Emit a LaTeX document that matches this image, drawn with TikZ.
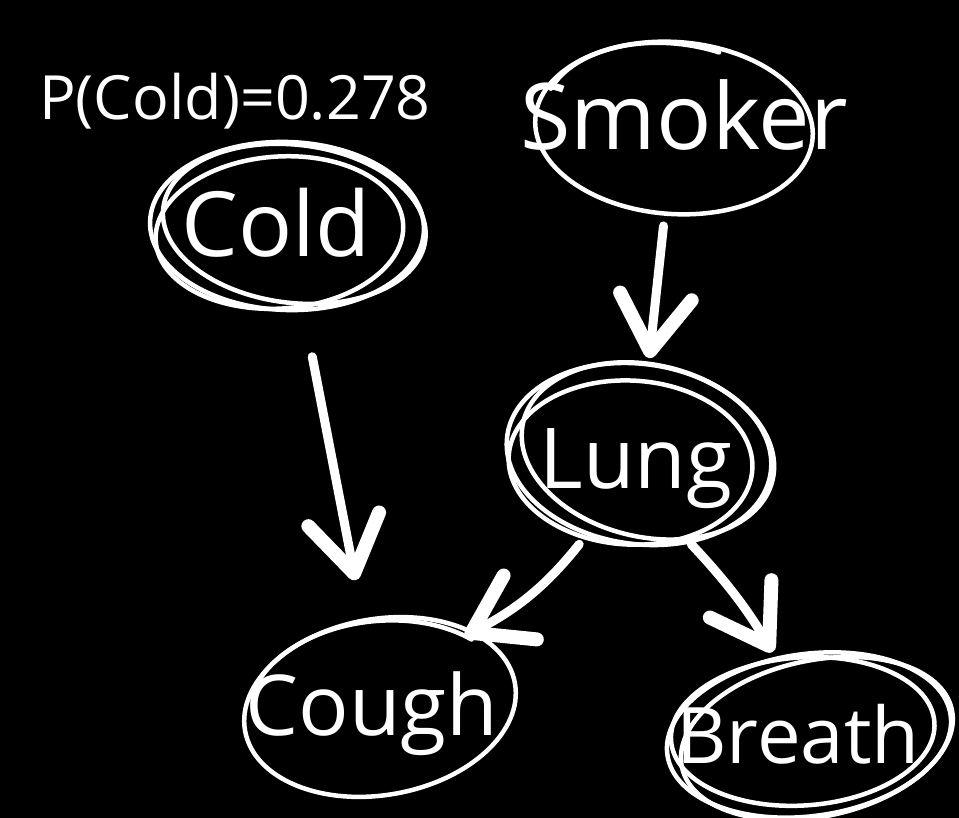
\documentclass[tikz,border=0pt]{standalone}
\usepackage{fontspec}
\setmainfont{Open Sans}
\usetikzlibrary{arrows.meta,shapes.geometric}

% one hand-drawn loop around a node: node, dx, dy, rotation, x radius, y radius
\newcommand\hloop[6]{%
  \draw[chalk, shift={(#1.center)}, rotate=#4] (#2,#3) ellipse [x radius=#5, y radius=#6];}

\begin{document}
\begin{tikzpicture}[x=1pt,y=-1pt,
  chalk/.style={draw=white, line width=4.5pt, line cap=round},
  region/.style={ellipse, inner sep=0pt},
  word/.style={text=white, anchor=base, inner sep=0pt},
  link/.style={white, line width=9pt, line cap=round,
    -{Straight Barb[length=55pt, width=72pt, line width=14pt, round]}}]

  % background
  \fill[black] (0,0) rectangle (959,818);
  \useasboundingbox (0,0) rectangle (959,818);

  % node regions
  \node[region, minimum width=272pt, minimum height=168pt] (cold)   at (287,226) {};
  \node[region, minimum width=278pt, minimum height=172pt] (smoker) at (674,128) {};
  \node[region, minimum width=264pt, minimum height=180pt] (lung)   at (639,454) {};
  \node[region, minimum width=274pt, minimum height=176pt] (cough)  at (380,707) {};
  \node[region, minimum width=284pt, minimum height=160pt] (breath) at (809,735) {};

  % loops
  \hloop{cold}{0}{0}{-2}{137}{84}
  \hloop{cold}{-8}{6}{4}{124}{76}
  \hloop{cold}{7}{-3}{-7}{132}{79}

  \hloop{smoker}{0}{0}{-4}{139}{86}
  \draw[chalk, shift={(smoker.center)}, rotate=-8]
    (195:132 and 84) arc[start angle=195, end angle=285, x radius=132, y radius=84];

  \hloop{lung}{0}{0}{-8}{133}{90}
  \hloop{lung}{-8}{9}{-3}{122}{82}
  \hloop{lung}{8}{-5}{-13}{128}{86}

  \hloop{cough}{0}{0}{10}{137}{88}
  \draw[chalk, shift={(cough.center)}, rotate=6]
    (205:132 and 86) arc[start angle=205, end angle=318, x radius=132, y radius=86];

  \hloop{breath}{0}{0}{8}{143}{81}
  \hloop{breath}{-6}{-4}{4}{132}{74}
  \hloop{breath}{7}{5}{12}{138}{78}

  % texts
  \node[word, font=\fontsize{61}{63}\selectfont] (prior)      at (235,120) {P(Cold)=0.278};
  \node[word, font=\fontsize{90}{92}\selectfont] (coldtxt)    at (276,257) {Cold};
  \node[word, font=\fontsize{92}{94}\selectfont] (smokertxt)  at (684,150) {Smoker};
  \node[word, font=\fontsize{84}{86}\selectfont] (lungtxt)    at (636,488) {Lung};
  \node[word, font=\fontsize{84}{86}\selectfont] (coughtxt)   at (372,735) {Cough};
  \node[word, font=\fontsize{78}{80}\selectfont] (breathtxt)  at (798,763) {Breath};

  % connectors
  \draw[link, shorten <=48pt, shorten >=40pt] (cold) -- (cough);
  \draw[link, shorten <=12pt, shorten >=6pt] (smoker) -- (lung);
  \draw[link, shorten <=10pt, shorten >=2pt] (lung.237) to[bend left=12] (cough.40);
  \draw[link, shorten <=8pt, shorten >=6pt] (lung.299) to[bend left=6] (breath.113);
\end{tikzpicture}
\end{document}
